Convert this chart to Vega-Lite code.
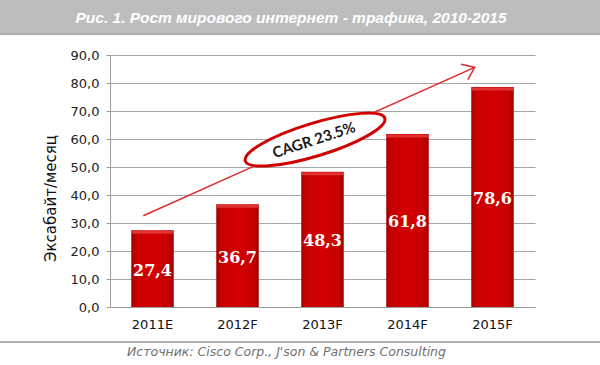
{
  "$schema": "https://vega.github.io/schema/vega-lite/v6.json",
  "width": 425,
  "height": 252,
  "autosize": {"type": "none"},
  "padding": {"left": 110, "top": 55, "right": 65, "bottom": 58},
  "background": "white",
  "config": {"view": {"stroke": null}},
  "data": {"values": [
    {"year": "2011E", "value": 27.4},
    {"year": "2012F", "value": 36.7},
    {"year": "2013F", "value": 48.3},
    {"year": "2014F", "value": 61.8},
    {"year": "2015F", "value": 78.6}
  ]},
  "resolve": {"scale": {"x": "independent"}, "axis": {"y": "independent"}},
  "layer": [
    {
      "encoding": {
        "x": {
          "field": "year", "type": "nominal", "sort": null,
          "scale": {"paddingInner": 0.5, "paddingOuter": 0.25},
          "axis": {"title": null, "labelAngle": 0, "ticks": false, "labelPadding": 11,
                   "labelFont": "DejaVu Sans", "labelFontSize": 13, "labelColor": "#111",
                   "domainColor": "#9a9a9a", "domainWidth": 1.2, "grid": false}
        },
        "y": {
          "field": "value", "type": "quantitative",
          "scale": {"domain": [0, 90], "nice": false, "zero": true},
          "axis": {
            "values": [0, 10, 20, 30, 40, 50, 60, 70, 80, 90],
            "labelExpr": "replace(format(datum.value, '.1f'), '.', ',')",
            "labelOverlap": false,
            "labelFont": "DejaVu Sans", "labelFontSize": 13, "labelColor": "#222",
            "labelPadding": 7, "tickSize": 4, "tickColor": "#9a9a9a", "domainColor": "#9a9a9a",
            "gridColor": "#a6a6a6", "gridWidth": 1,
            "title": "Эксабайт/месяц", "titleFont": "DejaVu Sans", "titleFontSize": 15,
            "titleFontWeight": "normal", "titleColor": "#111", "titleX": -52, "titleY": 143
          }
        }
      },
      "layer": [
        {
          "mark": {"type": "bar", "fill": {"gradient": "linear", "x1": 0, "x2": 1, "y1": 0, "y2": 0,
                    "stops": [{"offset": 0, "color": "#a30000"}, {"offset": 0.12, "color": "#c80000"},
                              {"offset": 0.5, "color": "#d40000"}, {"offset": 0.88, "color": "#c60000"},
                              {"offset": 1, "color": "#9c0000"}]}}
        },
        {
          "mark": {"type": "tick", "color": "#e23c3c", "thickness": 3, "yOffset": 2, "opacity": 0.85}
        },
        {
          "transform": [{"calculate": "datum.value / 2", "as": "mid"}, {"calculate": "replace(format(datum.value, '.1f'), '.', ',')", "as": "lab"}],
          "mark": {"type": "text", "color": "white", "font": "DejaVu Serif", "fontWeight": "bold",
                   "fontSize": 16, "baseline": "middle", "dy": 2},
          "encoding": {
            "y": {"field": "mid", "type": "quantitative"},
            "text": {"field": "lab", "type": "nominal"}
          }
        }
      ]
    },
    {
      "data": {"values": [{}]},
      "encoding": {},
      "layer": [
        {
          "mark": {"type": "rect", "color": "#bdbdbd"},
          "encoding": {
            "x": {"datum": -1.3, "type": "quantitative", "scale": {"domain": [0, 5], "nice": false, "zero": false}, "axis": null},
            "x2": {"datum": 5.8},
            "y": {"datum": 109.7, "type": "quantitative", "axis": null},
            "y2": {"datum": 97.7}
          }
        },
        {
          "mark": {"type": "rule", "color": "#999999", "strokeWidth": 1.5},
          "encoding": {
            "x": {"datum": -1.3, "type": "quantitative", "axis": null},
            "x2": {"datum": 5.8},
            "y": {"datum": 97.5, "type": "quantitative", "axis": null}
          }
        },
        {
          "mark": {"type": "text", "text": "Рис. 1. Рост мирового интернет - трафика, 2010-2015",
                   "color": "white", "font": "Liberation Sans", "fontWeight": "bold", "fontStyle": "italic",
                   "fontSize": 15.5, "align": "center", "baseline": "middle"},
          "encoding": {
            "x": {"datum": 2.13, "type": "quantitative", "axis": null},
            "y": {"datum": 103.2, "type": "quantitative", "axis": null}
          }
        },
        {
          "mark": {"type": "rule", "color": "#b0b0b0", "strokeWidth": 2},
          "encoding": {
            "x": {"datum": -1.3, "type": "quantitative", "axis": null},
            "x2": {"datum": 5.8},
            "y": {"datum": -12.5, "type": "quantitative", "axis": null}
          }
        },
        {
          "mark": {"type": "text", "text": "Источник: Cisco Corp., J'son & Partners Consulting",
                   "color": "#707070", "font": "DejaVu Sans", "fontStyle": "italic",
                   "fontSize": 12.5, "align": "left", "baseline": "middle"},
          "encoding": {
            "x": {"datum": 0.2, "type": "quantitative", "axis": null},
            "y": {"datum": -16.1, "type": "quantitative", "axis": null}
          }
        },
        {
          "mark": {"type": "rule", "color": "#dd2a2a", "strokeWidth": 1.5},
          "encoding": {
            "x": {"datum": 0.392, "type": "quantitative", "axis": null},
            "x2": {"datum": 4.29},
            "y": {"datum": 32.6, "type": "quantitative", "axis": null},
            "y2": {"datum": 85.6}
          }
        },
        {
          "mark": {"type": "point", "shape": "M -1 -0.75 L 0 0 L -1 0.75", "size": 500, "angle": -24,
                   "filled": false, "stroke": "#dd2a2a", "strokeWidth": 1.5, "fill": null, "opacity": 1},
          "encoding": {
            "x": {"datum": 4.29, "type": "quantitative", "axis": null},
            "y": {"datum": 85.6, "type": "quantitative", "axis": null}
          }
        },
        {
          "mark": {"type": "point", "shape": "M -1 0 A 1 0.225 0 1 1 1 0 A 1 0.225 0 1 1 -1 0 Z",
                   "size": 21300, "angle": -17, "filled": true, "fill": "white",
                   "stroke": "#d00000", "strokeWidth": 3, "opacity": 1, "fillOpacity": 1},
          "encoding": {
            "x": {"datum": 2.412, "type": "quantitative", "axis": null},
            "y": {"datum": 59.8, "type": "quantitative", "axis": null}
          }
        },
        {
          "mark": {"type": "text", "text": "CAGR 23.5%", "angle": -18, "color": "#1a1a1a",
                   "font": "Lato", "fontWeight": "bold", "fontSize": 15, "align": "center", "baseline": "middle"},
          "encoding": {
            "x": {"datum": 2.4, "type": "quantitative", "axis": null},
            "y": {"datum": 59.6, "type": "quantitative", "axis": null}
          }
        }
      ]
    }
  ]
}
